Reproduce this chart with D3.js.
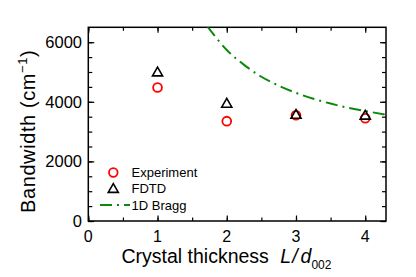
<!DOCTYPE html>
<html><head><meta charset="utf-8">
<script src="https://cdn.jsdelivr.net/npm/d3@7"></script>
<style>body{margin:0;background:#fff}svg{display:block}text{font-family:"Liberation Sans",Arial,sans-serif}</style>
</head><body>
<svg id="c" width="416" height="277"></svg>
<script>
const thickness = [1, 2, 3, 4];
const experiment = [4480, 3350, 3550, 3450];
const fdtd = [5000, 3950, 3580, 3550];
const braggX = [1.72, 2.0, 2.25, 2.5, 2.75, 3.0, 3.25, 3.5, 3.75, 4.0, 4.3];
const braggY = [6530, 5740, 5240, 4840, 4540, 4300, 4100, 3940, 3800, 3690, 3570];
const xTicks = [0, 1, 2, 3, 4];
const yTicks = [0, 2000, 4000, 6000];
const legendLabels = ["Experiment", "FDTD", "1D Bragg"];

const svg = d3.select("#c");
const L = 88.3, R = 386, T = 27.3, B = 221;
const x = d3.scaleLinear().domain([0, 4.3]).range([L, R]);
const y = d3.scaleLinear().domain([0, 6500]).range([B, T]);

svg.append("defs").append("clipPath").attr("id","clip")
  .append("rect").attr("x",L).attr("y",T).attr("width",R-L).attr("height",B-T);

const xMinor = d3.range(0, 4.3, 0.5);
const yMinor = d3.range(0, 6500, 500);
function tickAxis(axis, tr, vals, len) {
  const g = svg.append("g").attr("transform", tr)
    .call(axis.tickValues(vals).tickSize(len).tickFormat(""));
  g.select(".domain").remove();
  g.selectAll("line").attr("stroke","#000").attr("stroke-width",1.2);
}
tickAxis(d3.axisTop(x), `translate(0,${B})`, xMinor, 3.5);
tickAxis(d3.axisTop(x), `translate(0,${B})`, xTicks, 5.5);
tickAxis(d3.axisBottom(x), `translate(0,${T})`, xMinor, 3.5);
tickAxis(d3.axisBottom(x), `translate(0,${T})`, xTicks, 5.5);
tickAxis(d3.axisRight(y), `translate(${L},0)`, yMinor, 4);
tickAxis(d3.axisRight(y), `translate(${L},0)`, yTicks, 6);
tickAxis(d3.axisLeft(y), `translate(${R},0)`, yMinor, 4);
tickAxis(d3.axisLeft(y), `translate(${R},0)`, yTicks, 6);

svg.append("rect").attr("x",L).attr("y",T).attr("width",R-L).attr("height",B-T)
  .attr("fill","none").attr("stroke","#000").attr("stroke-width",1.5);

svg.selectAll(".xl").data(xTicks).enter().append("text")
  .attr("x", d => x(d)).attr("y", 242).attr("text-anchor","middle")
  .attr("font-size", 16).text(d => d);
svg.selectAll(".yl").data(yTicks).enter().append("text")
  .attr("x", 82).attr("y", d => y(d) + 6).attr("text-anchor","end")
  .attr("font-size", 16.5).text(d => d);

const xt = svg.append("text").attr("x", 121.5).attr("y", 263).attr("font-size", 19.5);
xt.append("tspan").text("Crystal thickness ");
xt.append("tspan").attr("font-style","italic").attr("dx",6).text("L");
xt.append("tspan").attr("font-style","italic").attr("dx",1).text("/");
xt.append("tspan").attr("font-style","italic").attr("dx",3).text("d");
xt.append("tspan").attr("font-size",12).attr("dy",6).text("002");

const yt = svg.append("text").attr("transform","translate(35,213) rotate(-90)")
  .attr("font-size", 20).attr("letter-spacing", 0.6);
yt.append("tspan").text("Bandwidth (cm");
yt.append("tspan").attr("font-size",13).attr("dy",-8).text("−1");
yt.append("tspan").attr("dy",8).text(")");

const line = d3.line().x((d,i) => x(braggX[i])).y(d => y(d)).curve(d3.curveMonotoneX);
svg.append("path").datum(braggY).attr("clip-path","url(#clip)")
  .attr("d", line).attr("fill","none").attr("stroke","#0a8a0a")
  .attr("stroke-width", 2).attr("stroke-dasharray","12,5,2,5");

const tri = d3.symbol().type(d3.symbolTriangle).size(44);
svg.selectAll(".exp").data(experiment).enter().append("circle")
  .attr("cx",(d,i)=>x(thickness[i])).attr("cy",d=>y(d)).attr("r",4.4)
  .attr("fill","none").attr("stroke","#ff0000").attr("stroke-width",1.8);
svg.selectAll(".fd").data(fdtd).enter().append("path")
  .attr("d", tri).attr("transform",(d,i)=>`translate(${x(thickness[i])},${y(d)+1})`)
  .attr("fill","none").attr("stroke","#000").attr("stroke-width",1.6);

const ly = [172.5, 188.5, 205];
svg.append("circle").attr("cx",113.3).attr("cy",ly[0]).attr("r",4.3)
  .attr("fill","none").attr("stroke","#ff0000").attr("stroke-width",1.8);
svg.append("path").attr("d",tri).attr("transform",`translate(113.3,${ly[1]+1})`)
  .attr("fill","none").attr("stroke","#000").attr("stroke-width",1.6);
svg.append("line").attr("x1",100).attr("x2",130).attr("y1",ly[2]).attr("y2",ly[2])
  .attr("stroke","#0a8a0a").attr("stroke-width",2).attr("stroke-dasharray","12,5,2,5");
svg.selectAll(".lg").data(legendLabels).enter().append("text")
  .attr("x",131.5).attr("y",(d,i)=>ly[i]+4.5).attr("font-size",13).text(d=>d);
</script>
</body></html>
